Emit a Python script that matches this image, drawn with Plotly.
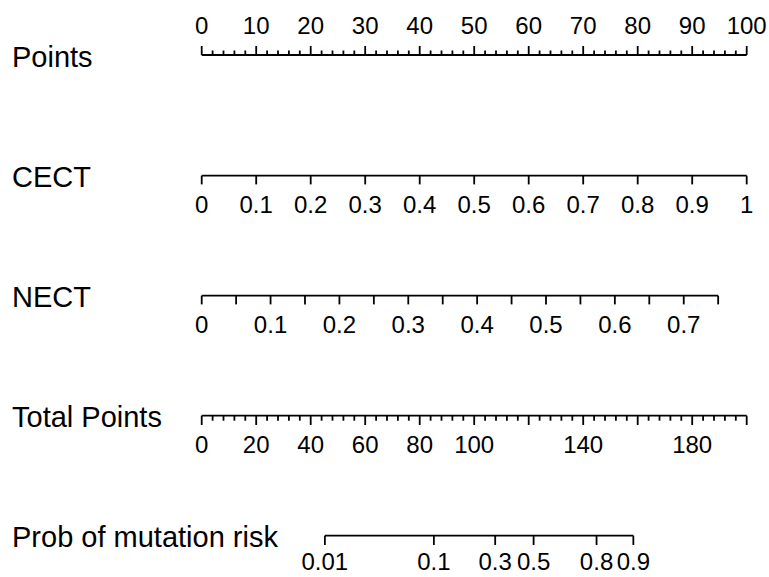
import plotly.graph_objects as go

# ---- data ----
row_labels = ["Points", "CECT", "NECT", "Total Points", "Prob of mutation risk"]

points_major = list(range(0, 101, 10))
points_minor = [v for v in range(0, 101, 2) if v % 10 != 0]

cect_ticks = [0, 0.1, 0.2, 0.3, 0.4, 0.5, 0.6, 0.7, 0.8, 0.9, 1]
cect_labels = ["0", "0.1", "0.2", "0.3", "0.4", "0.5", "0.6", "0.7", "0.8", "0.9", "1"]
cect_points_per_unit = 100.0

nect_ticks = [0, 0.05, 0.1, 0.15, 0.2, 0.25, 0.3, 0.35, 0.4, 0.45, 0.5, 0.55, 0.6, 0.65, 0.7, 0.75]
nect_labelled = [0, 0.1, 0.2, 0.3, 0.4, 0.5, 0.6, 0.7]
nect_labels = ["0", "0.1", "0.2", "0.3", "0.4", "0.5", "0.6", "0.7"]
nect_points_per_unit = 126.35

total_major = list(range(0, 201, 20))
total_minor = [v for v in range(0, 201, 4) if v % 20 != 0]
total_labelled = [0, 20, 40, 60, 80, 100, 140, 180]
total_labels = ["0", "20", "40", "60", "80", "100", "140", "180"]
total_max = 200

prob_labels = ["0.01", "0.1", "0.3", "0.5", "0.8", "0.9"]
prob_total_points = [45.2, 85.2, 107.7, 121.8, 144.9, 158.4]  # total-points position of each probability

# ---- layout constants (pixel space on y, points space on x) ----
W, H = 769, 577
X0_PX, PX_PER_PT = 201.7, 5.45
row_y = [55, 175.7, 295.7, 415.7, 535.7]
LW = 1.8
FONT = "Liberation Sans, Arial, Helvetica, sans-serif"
LABEL_SIZE = 29
TICK_SIZE = 24

fig = go.Figure()


def add_axis(y, start, end, major, minor, major_len, minor_len, direction):
    xs, ys = [start, end], [y, y]
    fig.add_trace(go.Scatter(x=xs, y=ys, mode="lines", line=dict(color="black", width=LW),
                             hoverinfo="skip", showlegend=False))
    tx, ty = [], []
    for v in major:
        tx += [v, v, None]
        ty += [y, y + direction * major_len, None]
    for v in minor:
        tx += [v, v, None]
        ty += [y, y + direction * minor_len, None]
    fig.add_trace(go.Scatter(x=tx, y=ty, mode="lines", line=dict(color="black", width=LW),
                             hoverinfo="skip", showlegend=False))


def add_labels(xs, texts, y):
    fig.add_trace(go.Scatter(x=xs, y=[y] * len(xs), mode="text", text=texts,
                             textposition="middle center",
                             textfont=dict(family=FONT, size=TICK_SIZE, color="black"),
                             hoverinfo="skip", showlegend=False))


# Points
add_axis(row_y[0], 0, 100, points_major, points_minor, 9, 4.5, -1)
add_labels(points_major, [str(v) for v in points_major], 28)

# CECT
cx = [v * cect_points_per_unit for v in cect_ticks]
add_axis(row_y[1], cx[0], cx[-1], cx, [], 8.7, 0, 1)
add_labels(cx, cect_labels, 207)

# NECT
nx = [v * nect_points_per_unit for v in nect_ticks]
add_axis(row_y[2], nx[0], nx[-1], nx, [], 8.7, 0, 1)
add_labels([v * nect_points_per_unit for v in nect_labelled], nect_labels, 327)

# Total points
sc = 100.0 / total_max
add_axis(row_y[3], 0, total_max * sc, [v * sc for v in total_major], [v * sc for v in total_minor], 9.3, 5, 1)
add_labels([v * sc for v in total_labelled], total_labels, 447)

# Probability
px = [v * sc for v in prob_total_points]
add_axis(row_y[4], px[0], px[-1], px, [], 9.3, 0, 1)
add_labels(px, prob_labels, 564)

# Row labels
for lab, y in zip(row_labels, row_y):
    fig.add_annotation(x=(10 - X0_PX) / PX_PER_PT, y=y + 1.5, text=lab, showarrow=False,
                       xanchor="left", yanchor="middle",
                       font=dict(family=FONT, size=LABEL_SIZE, color="black"))

fig.update_layout(
    width=W, height=H,
    margin=dict(l=0, r=0, t=0, b=0),
    paper_bgcolor="white", plot_bgcolor="white",
    xaxis=dict(range=[(0 - X0_PX) / PX_PER_PT, (W - X0_PX) / PX_PER_PT], visible=False, fixedrange=True),
    yaxis=dict(range=[H, 0], visible=False, fixedrange=True),
    showlegend=False,
)

fig.write_html("out.html")
